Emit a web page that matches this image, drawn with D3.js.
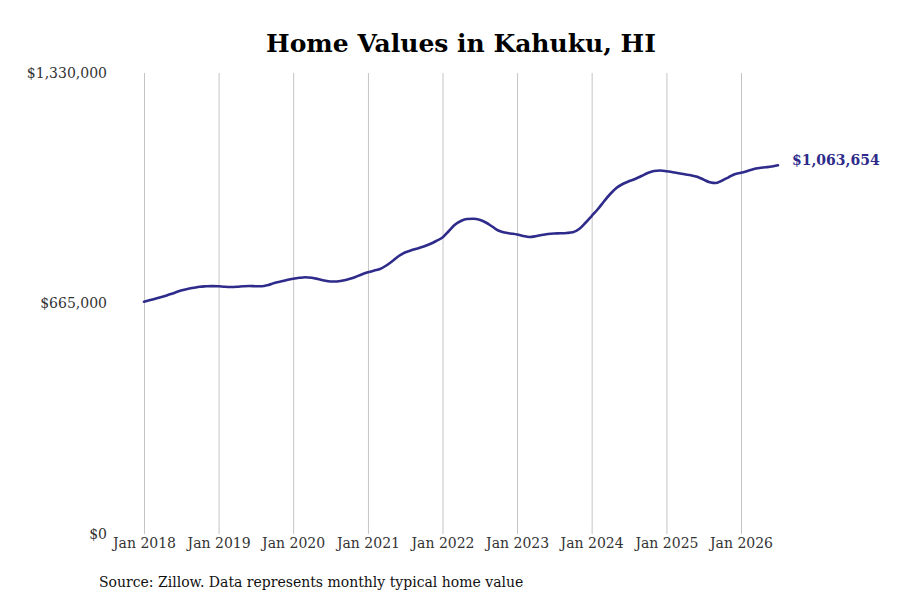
<!DOCTYPE html>
<html>
<head>
<meta charset="utf-8">
<script src="https://cdn.jsdelivr.net/npm/d3@7"></script>
<style>
  html, body { margin: 0; padding: 0; background: #fff; }
  #container { width: 900px; height: 600px; }
</style>
</head>
<body>
<div id="container"></div>
<script>
// monthly typical home value, Jan 2018 .. Jul 2026
let startYear = 2018;
let values = [
    670200, 675100, 679400, 684300, 690100, 696200, 702500, 706800, 710300, 713500, 714600, 715200,
    714600, 713200, 712600, 713200, 714600, 715500, 714900, 714600, 718400, 724100, 728500, 732800,
    736500, 739100, 740600, 739100, 735700, 731300, 728500, 728500, 731300, 735700, 741400, 748700,
    755000, 760200, 764500, 774600, 787600, 802000, 812100, 818500, 823700, 829400, 836700, 845300,
    855400, 874200, 891500, 903000, 908800, 909400, 906800, 898700, 887100, 875600, 869800, 867000,
    864100, 859700, 856800, 858900, 862600, 865500, 867000, 867500, 868400, 870400, 879900, 897200,
    917400, 937600, 959300, 980900, 998200, 1009800, 1017500, 1024200, 1032800, 1041500, 1047300, 1048700,
    1046700, 1043800, 1040900, 1037700, 1034900, 1030500, 1022700, 1014900, 1012600, 1019800, 1029100, 1038000,
    1042100, 1047300, 1052400, 1055900, 1057900, 1060200, 1063654
];
let yTicks = [0, 665000, 1330000];
let xTickYears = [2018, 2019, 2020, 2021, 2022, 2023, 2024, 2025, 2026];
let title = 'Home Values in Kahuku, HI';
let source = 'Source: Zillow. Data represents monthly typical home value';

let w = 900,
    h = 600;

let viz = d3.select('#container')
    .append('svg')
      .attr('width', w)
      .attr('height', h)
      .style('background', '#fff')
      .style('font-family', 'DejaVu Serif');

function main() {
    let data = values.map((v, i) => ({ date: new Date(startYear, i, 1), value: v }));

    let x = d3.scaleTime()
        .domain([new Date(2018, 0, 1), new Date(2026, 0, 1)])
        .range([144, 741]);
    let y = d3.scaleLinear()
        .domain([0, 1330000])
        .range([534, 73]);

    // vertical gridlines + x labels
    let xAxis = viz.append('g')
        .attr('transform', 'translate(0,534)')
        .call(d3.axisBottom(x)
            .tickValues(xTickYears.map(yr => new Date(yr, 0, 1)))
            .tickSize(-461)
            .tickPadding(4)
            .tickFormat(d3.timeFormat('Jan %Y')));
    xAxis.select('.domain').remove();
    xAxis.selectAll('line').attr('stroke', '#c4c4c4').attr('stroke-width', 1);
    xAxis.selectAll('text')
        .attr('font-family', 'DejaVu Serif')
        .attr('font-size', 14)
        .attr('fill', '#333');

    // y labels
    let yAxis = viz.append('g')
        .attr('transform', 'translate(107,0)')
        .call(d3.axisLeft(y)
            .tickValues(yTicks)
            .tickSize(0)
            .tickPadding(0)
            .tickFormat(d => '$' + d3.format(',')(d)));
    yAxis.select('.domain').remove();
    yAxis.selectAll('text')
        .attr('font-family', 'DejaVu Serif')
        .attr('font-size', 14)
        .attr('fill', '#333');

    let line = d3.line()
        .x(d => x(d.date))
        .y(d => y(d.value))
        .curve(d3.curveMonotoneX);

    viz.append('path')
        .datum(data)
        .attr('d', line)
        .attr('fill', 'none')
        .attr('stroke', '#2e2b8a')
        .attr('stroke-width', 2.6)
        .attr('stroke-linejoin', 'round')
        .attr('stroke-linecap', 'round');

    let last = data[data.length - 1];
    viz.append('text')
        .attr('x', x(last.date) + 14)
        .attr('y', y(last.value) - 5)
        .attr('dy', '0.35em')
        .attr('font-size', 14)
        .attr('font-weight', 'bold')
        .attr('fill', '#2e2b8a')
        .text('$' + d3.format(',')(last.value));

    viz.append('text')
        .attr('x', 461)
        .attr('y', 52)
        .attr('text-anchor', 'middle')
        .attr('font-size', 25)
        .attr('font-weight', 'bold')
        .attr('fill', '#000')
        .text(title);

    viz.append('text')
        .attr('x', 99)
        .attr('y', 587)
        .attr('font-size', 14)
        .attr('fill', '#111')
        .text(source);
}

main();
</script>
</body>
</html>
